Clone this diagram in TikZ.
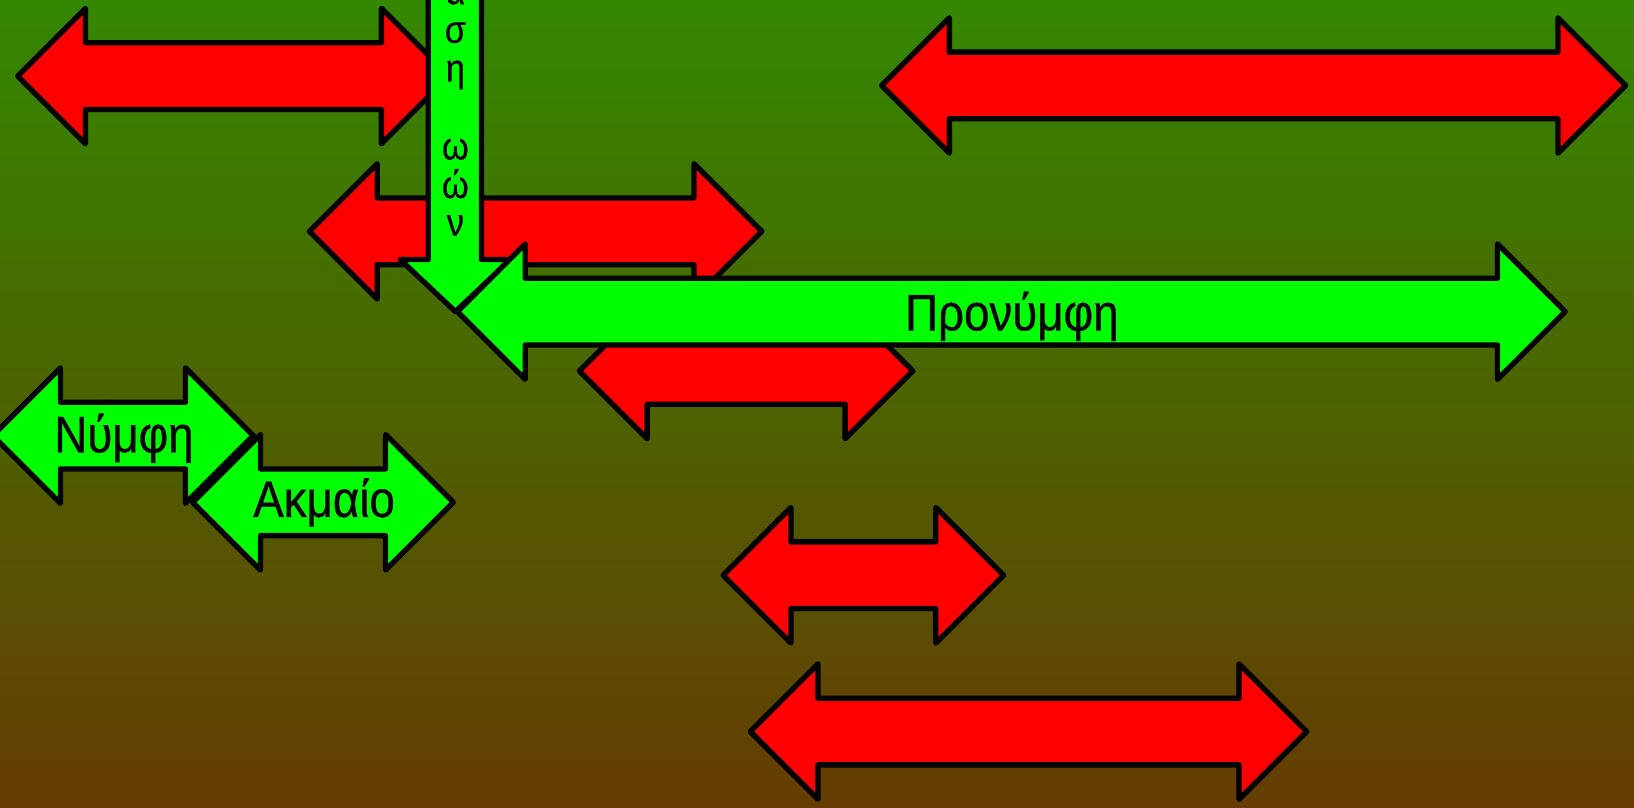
\documentclass[tikz,border=0pt]{standalone}
\usepackage{fontspec}
\newfontfamily\labfont[FakeStretch=0.89,FakeBold=0.6]{Liberation Sans}
\definecolor{bgtop}{RGB}{51,136,0}
\definecolor{bgbot}{RGB}{102,60,0}
\definecolor{arrred}{RGB}{255,0,0}
\definecolor{arrgreen}{RGB}{0,255,0}
\newcommand\dblarrow[4]{%
  \draw[#1] (#2,#4) -- ++(65,-65) -- ++(0,33) -- ({#3-65},{#4-32}) -- ++(0,-33)
    -- (#3,#4) -- ++(-65,65) -- ++(0,-33) -- ({#2+65},{#4+32}) -- ++(0,33) -- cycle;}
\begin{document}
\begin{tikzpicture}[x=0.01cm,y=-0.01cm,
  arr/.style={draw=black,line width=1.45pt,line join=round},
  redarr/.style={arr,fill=arrred},
  grnarr/.style={arr,fill=arrgreen},
  lab/.style={font=\labfont\fontsize{14}{16}\selectfont,inner sep=0pt,anchor=base},
  vlet/.style={font=\labfont\fontsize{10.5}{12}\selectfont,inner sep=0pt,anchor=base}]
\useasboundingbox (0,0) rectangle (1568,775);
\shade[top color=bgtop,bottom color=bgbot] (0,0) rectangle (1568,775);
% red arrows (back)
\dblarrow{redarr}{17}{431}{73}
\dblarrow{redarr}{846}{1560}{82}
\dblarrow{redarr}{297}{731}{222}
\dblarrow{redarr}{556}{876}{356}
% vertical green arrow
\draw[grnarr] (411,-60) -- (411,249) -- (384,249) -- (437,299) -- (490,249) -- (462,249) -- (462,-60) -- cycle;
\foreach \ch/\yy [count=\i] in {α/4,σ/41,η/78,ω/153,ώ/190,ν/226}
  \node[vlet] (v\i) at (437,\yy) {\ch};
% green labelled arrows
\dblarrow{grnarr}{439}{1502}{299}
\node[lab] (pron) at (971,317) {Προνύμφη};
\dblarrow{grnarr}{-7}{243}{418}
\node[lab] (nymf) at (119,434) {Νύμφη};
\dblarrow{grnarr}{185}{435}{482}
\node[lab] (akm) at (311,496) {Ακμαίο};
% lower red arrows
\dblarrow{redarr}{694}{963}{552}
\dblarrow{redarr}{720}{1254}{702}
\end{tikzpicture}
\end{document}
